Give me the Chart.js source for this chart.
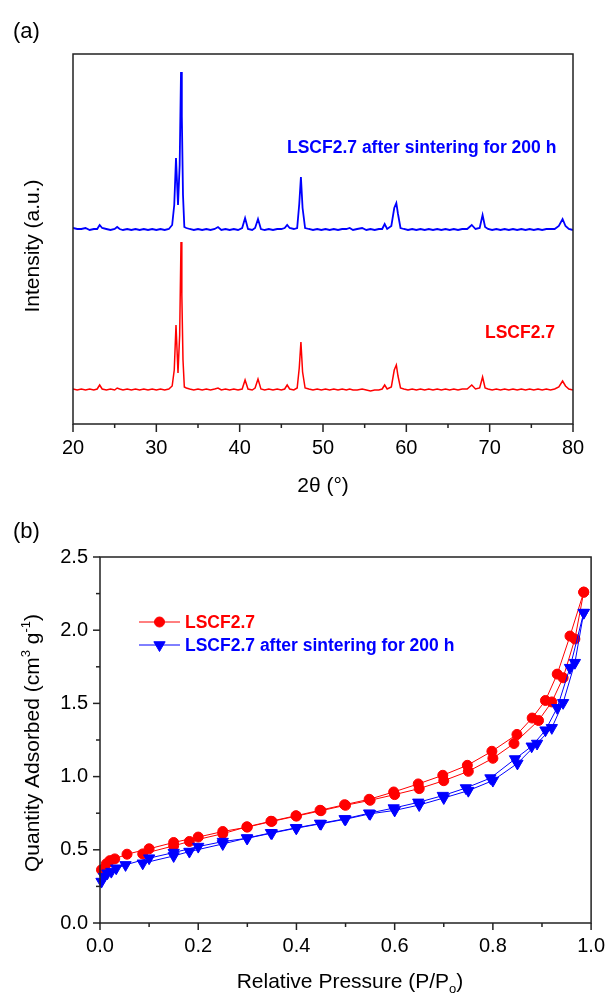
<!DOCTYPE html>
<html>
<head>
<meta charset="utf-8">
<script src="https://cdn.jsdelivr.net/npm/chart.js@4.4.0/dist/chart.umd.min.js"></script>
<style>
  html, body { margin: 0; padding: 0; background: #fff; }
  canvas { display: block; }
</style>
</head>
<body>
<canvas id="xrd" width="616" height="499"></canvas>
<canvas id="bet" width="616" height="499"></canvas>
<script>
const FONT = '"Liberation Sans", Arial, sans-serif';
const RED = "#ff0000";
const BLUE = "#0000ff";

// (a) XRD patterns
const twoTheta = [
  20.0, 20.5, 21.0, 21.5, 22.0, 22.5, 22.9, 23.2, 23.5, 24.0,
  24.5, 25.0, 25.3, 25.6, 26.0, 26.5, 27.0, 27.5, 28.0, 28.5,
  29.0, 29.5, 30.0, 30.5, 31.0, 31.5, 31.9, 32.15, 32.36, 32.6,
  32.8, 32.96, 33.06, 33.2, 33.36, 33.6, 34.0, 34.5, 35.0, 35.5,
  36.0, 36.5, 37.0, 37.4, 37.8, 38.3, 38.8, 39.3, 39.8, 40.3,
  40.65, 41.0, 41.5, 41.85, 42.2, 42.55, 43.0, 43.5, 44.0, 44.5,
  45.0, 45.4, 45.7, 46.0, 46.5, 46.9, 47.15, 47.35, 47.55, 47.85,
  48.3, 48.8, 49.3, 49.8, 50.3, 50.8, 51.3, 51.8, 52.3, 52.8,
  53.2, 53.6, 54.1, 54.7, 55.2, 55.7, 56.2, 56.7, 57.1, 57.4,
  57.7, 58.2, 58.55, 58.8, 59.0, 59.3, 59.7, 60.2, 60.7, 61.2,
  61.7, 62.2, 62.7, 63.2, 63.7, 64.2, 64.7, 65.2, 65.7, 66.2,
  66.7, 67.3, 67.85, 68.3, 68.8, 69.15, 69.45, 69.8, 70.3, 70.8,
  71.3, 71.8, 72.3, 72.8, 73.3, 73.8, 74.3, 74.8, 75.3, 75.8,
  76.3, 76.8, 77.3, 77.8, 78.3, 78.75, 79.1, 79.5, 80.0
];
const freshCounts = [
  1, 0, 1, 0, 1, 0, 1, 5, 1, 0,
  1, 0, 2, 1, 0, 1, 0, 1, 0, 1,
  0, 1, 0, 1, 0, 1, 4, 20, 65, 17,
  55, 148, 95, 30, 3, 2, 1, 0, 1, 0,
  1, 0, 1, 2, 0, 1, 0, 1, 0, 1,
  10, 1, 0, 2, 11, 1, 0, 1, 0, 1,
  0, 1, 5, 1, 0, 2, 22, 48, 18, 2,
  1, 0, 1, 0, 1, 0, 1, 0, 1, 0,
  1, 0, 0, 1, 0, -1, 0, 0, 1, 5,
  1, 3, 20, 25, 14, 2, 1, 0, 1, 0,
  1, 0, 1, 0, 1, 0, 1, 0, 1, 0,
  1, 1, 5, 1, 2, 13, 2, 1, 0, 1,
  0, 1, 0, 1, 0, 1, 0, 1, 0, 1,
  0, 1, 0, 1, 3, 9, 4, 1, 0
];
const sinteredCounts = [
  2, 1, 1, 2, 0, 1, 1, 5, 2, 1,
  0, 1, 3, 1, 0, 1, 0, 1, 0, 1,
  0, 1, 0, 1, 0, 1, 5, 25, 72, 25,
  65, 158, 114, 35, 3, 2, 1, 0, 1, 0,
  1, 0, 1, 3, 0, 1, 0, 1, 0, 2,
  12, 1, 0, 2, 11, 1, 0, 1, 0, 1,
  1, 2, 5, 2, 1, 2, 26, 53, 22, 2,
  1, 0, 1, 0, 1, 0, 1, 0, 1, 1,
  2, 0, 1, 2, 0, 1, 0, 1, 1, 6,
  1, 4, 22, 27, 16, 2, 1, 0, 1, 0,
  1, 0, 1, 0, 1, 0, 1, 0, 1, 0,
  1, 1, 5, 1, 2, 15, 3, 1, 0, 1,
  0, 1, 0, 1, 0, 1, 0, 1, 0, 1,
  0, 1, 1, 1, 4, 11, 4, 1, 0
];
const freshOffset = 34;
const sinteredOffset = 194;
const thetaMajor = [20, 30, 40, 50, 60, 70, 80];
const thetaMinor = [25, 35, 45, 55, 65, 75];

// (b) N2 isotherms
const freshAdsP = [0.003, 0.013, 0.02, 0.03, 0.055, 0.1, 0.15, 0.2, 0.25, 0.3, 0.35, 0.4, 0.45, 0.5, 0.55, 0.6, 0.65, 0.7, 0.75, 0.8, 0.843, 0.893, 0.92, 0.943, 0.967, 0.985];
const freshAdsQ = [0.363, 0.404, 0.426, 0.438, 0.47, 0.507, 0.55, 0.587, 0.625, 0.655, 0.694, 0.73, 0.767, 0.804, 0.838, 0.877, 0.918, 0.972, 1.036, 1.125, 1.226, 1.383, 1.51, 1.675, 1.94, 2.26];
const freshDesP = [0.985, 0.957, 0.931, 0.907, 0.88, 0.849, 0.798, 0.748, 0.698, 0.648, 0.598, 0.548, 0.498, 0.448, 0.399, 0.348, 0.299, 0.25, 0.182, 0.15, 0.087];
const freshDesQ = [2.26, 1.96, 1.70, 1.52, 1.40, 1.288, 1.173, 1.077, 1.009, 0.95, 0.895, 0.845, 0.808, 0.77, 0.733, 0.695, 0.657, 0.61, 0.557, 0.527, 0.472];
const sintAdsP = [0.003, 0.008, 0.015, 0.023, 0.033, 0.052, 0.1, 0.15, 0.2, 0.25, 0.3, 0.35, 0.4, 0.45, 0.5, 0.55, 0.6, 0.65, 0.7, 0.75, 0.8, 0.85, 0.89, 0.92, 0.943, 0.967, 0.985];
const sintAdsQ = [0.283, 0.317, 0.34, 0.351, 0.374, 0.397, 0.443, 0.481, 0.522, 0.556, 0.579, 0.614, 0.648, 0.678, 0.709, 0.746, 0.769, 0.806, 0.854, 0.904, 0.973, 1.09, 1.226, 1.333, 1.504, 1.778, 2.12];
const sintDesP = [0.985, 0.957, 0.931, 0.907, 0.879, 0.845, 0.795, 0.745, 0.698, 0.648, 0.598, 0.548, 0.498, 0.448, 0.399, 0.348, 0.299, 0.25, 0.182, 0.15, 0.087];
const sintDesQ = [2.12, 1.744, 1.47, 1.317, 1.207, 1.12, 0.99, 0.922, 0.87, 0.824, 0.785, 0.75, 0.711, 0.68, 0.65, 0.616, 0.58, 0.54, 0.488, 0.458, 0.408];
const pMajor = [0, 0.2, 0.4, 0.6, 0.8, 1.0];
const pMinor = [0.1, 0.3, 0.5, 0.7, 0.9];
const qMajor = [0, 0.5, 1.0, 1.5, 2.0, 2.5];
const qMinor = [0.25, 0.75, 1.25, 1.75, 2.25];

const seriesNames = ["LSCF2.7", "LSCF2.7 after sintering for 200 h"];

function pairs(xs, ys, shift = 0) {
  return xs.map((x, i) => ({ x, y: ys[i] + shift }));
}

function drawRich(ctx, t) {
  const weight = t.bold ? "bold " : "";
  const segs = t.parts.map((p) => (typeof p === "string" ? { text: p } : { ...p }));
  const fontFor = (s) => weight + (s.sup || s.sub ? Math.round(t.size * 0.62) : t.size) + "px " + FONT;
  let total = 0;
  segs.forEach((s) => {
    ctx.font = fontFor(s);
    s.w = ctx.measureText(s.text).width;
    total += s.w;
  });
  ctx.save();
  ctx.translate(t.x, t.y);
  if (t.rotate) ctx.rotate(-Math.PI / 2);
  ctx.fillStyle = t.color || "#000";
  ctx.textBaseline = "alphabetic";
  ctx.textAlign = "left";
  let x = t.align === "left" ? 0 : -total / 2;
  const base = t.size * 0.36;
  segs.forEach((s) => {
    ctx.font = fontFor(s);
    const dy = s.sup ? -t.size * 0.42 : s.sub ? t.size * 0.24 : 0;
    ctx.fillText(s.text, x, base + dy);
    x += s.w;
  });
  ctx.restore();
}

const axisFrame = {
  id: "axisFrame",
  afterDraw(chart, args, opts) {
    const { ctx, chartArea: a, scales } = chart;
    ctx.save();
    ctx.strokeStyle = "#222";
    ctx.lineWidth = 1.5;
    ctx.strokeRect(a.left, a.top, a.right - a.left, a.bottom - a.top);
    (opts.ticks || []).forEach((t) => {
      const s = scales[t.scale];
      t.values.forEach((v) => {
        const p = s.getPixelForValue(v);
        ctx.beginPath();
        if (t.scale === "x") {
          ctx.moveTo(p, a.bottom);
          ctx.lineTo(p, a.bottom + t.len);
        } else {
          ctx.moveTo(a.left, p);
          ctx.lineTo(a.left - t.len, p);
        }
        ctx.stroke();
      });
    });
    (opts.legend || []).forEach((row) => {
      ctx.strokeStyle = row.color;
      ctx.fillStyle = row.color;
      ctx.lineWidth = 1;
      ctx.beginPath();
      ctx.moveTo(row.x0, row.y);
      ctx.lineTo(row.x1, row.y);
      ctx.stroke();
      Chart.helpers.drawPoint(ctx, { pointStyle: row.style, rotation: row.rotation || 0, radius: row.radius, borderWidth: 1 }, (row.x0 + row.x1) / 2, row.y);
      drawRich(ctx, { parts: [row.label], x: row.x1 + 5, y: row.y, size: 17.5, bold: true, color: row.color, align: "left" });
    });
    (opts.texts || []).forEach((t) => drawRich(ctx, t));
    ctx.restore();
  },
};

function baseScale(extra) {
  return Object.assign({
    type: "linear",
    grid: { display: false, drawTicks: false },
    border: { display: false },
  }, extra);
}

new Chart(document.getElementById("xrd"), {
  type: "line",
  data: {
    datasets: [
      {
        label: seriesNames[1],
        data: pairs(twoTheta, sinteredCounts, sinteredOffset),
        borderColor: BLUE,
        borderWidth: 1.8,
        pointRadius: 0,
        tension: 0,
      },
      {
        label: seriesNames[0],
        data: pairs(twoTheta, freshCounts, freshOffset),
        borderColor: RED,
        borderWidth: 1.5,
        pointRadius: 0,
        tension: 0,
      },
    ],
  },
  options: {
    responsive: false,
    animation: false,
    layout: { padding: { left: 0, top: 54, right: 43, bottom: 0 } },
    scales: {
      x: baseScale({
        min: 20,
        max: 80,
        ticks: { stepSize: 10, padding: 12, color: "#000", font: { family: FONT, size: 20 } },
        afterFit: (s) => { s.height = 75; },
      }),
      y: baseScale({
        min: 0,
        max: 370,
        ticks: { display: false },
        afterFit: (s) => { s.width = 73; },
      }),
    },
    plugins: {
      legend: { display: false },
      tooltip: { enabled: false },
      axisFrame: {
        ticks: [
          { scale: "x", values: thetaMajor, len: 8 },
          { scale: "x", values: thetaMinor, len: 4 },
        ],
        texts: [
          { parts: ["(a)"], x: 13, y: 30, size: 22, align: "left" },
          { parts: ["Intensity (a.u.)"], x: 31, y: 246, size: 21, rotate: true },
          { parts: ["2\u03b8 (\u00b0)"], x: 323, y: 484, size: 21 },
          { parts: [seriesNames[1]], x: 287, y: 147, size: 17.5, bold: true, color: BLUE, align: "left" },
          { parts: [seriesNames[0]], x: 485, y: 332, size: 17.5, bold: true, color: RED, align: "left" },
        ],
      },
    },
  },
  plugins: [axisFrame],
});

function branch(label, xs, ys, color, style) {
  return {
    label,
    data: pairs(xs, ys),
    borderColor: color,
    backgroundColor: color,
    borderWidth: 1,
    pointStyle: style,
    pointRotation: style === "triangle" ? 180 : 0,
    pointRadius: style === "triangle" ? 6.5 : 5,
    pointBackgroundColor: color,
    pointBorderColor: color,
    pointBorderWidth: 1,
    tension: 0,
    clip: false,
  };
}

new Chart(document.getElementById("bet"), {
  type: "line",
  data: {
    datasets: [
      branch(seriesNames[1] + " ads", sintAdsP, sintAdsQ, BLUE, "triangle"),
      branch(seriesNames[1] + " des", sintDesP, sintDesQ, BLUE, "triangle"),
      branch(seriesNames[0] + " ads", freshAdsP, freshAdsQ, RED, "circle"),
      branch(seriesNames[0] + " des", freshDesP, freshDesQ, RED, "circle"),
    ],
  },
  options: {
    responsive: false,
    animation: false,
    layout: { padding: { left: 0, top: 58, right: 17, bottom: 0 } },
    scales: {
      x: baseScale({
        min: 0,
        max: 1,
        ticks: { stepSize: 0.2, padding: 11, color: "#000", font: { family: FONT, size: 20 }, callback: (v) => v.toFixed(1) },
        afterFit: (s) => { s.height = 75; },
      }),
      y: baseScale({
        min: 0,
        max: 2.5,
        ticks: { stepSize: 0.5, padding: 12, color: "#000", font: { family: FONT, size: 20 }, callback: (v) => v.toFixed(1) },
        afterFit: (s) => { s.width = 100; },
      }),
    },
    plugins: {
      legend: { display: false },
      tooltip: { enabled: false },
      axisFrame: {
        ticks: [
          { scale: "x", values: pMajor, len: 7 },
          { scale: "x", values: pMinor, len: 4 },
          { scale: "y", values: qMajor, len: 7 },
          { scale: "y", values: qMinor, len: 4 },
        ],
        legend: [
          { color: RED, style: "circle", radius: 5, label: seriesNames[0], x0: 139, x1: 180, y: 123 },
          { color: BLUE, style: "triangle", rotation: 180, radius: 6.5, label: seriesNames[1], x0: 139, x1: 180, y: 146 },
        ],
        texts: [
          { parts: ["(b)"], x: 13, y: 31, size: 22, align: "left" },
          { parts: ["Quantity Adsorbed (cm", { text: "3", sup: true }, " g", { text: "-1", sup: true }, ")"], x: 31, y: 244, size: 21, rotate: true },
          { parts: ["Relative Pressure (P/P", { text: "o", sub: true }, ")"], x: 350, y: 481, size: 21 },
        ],
      },
    },
  },
  plugins: [axisFrame],
});
</script>
</body>
</html>
